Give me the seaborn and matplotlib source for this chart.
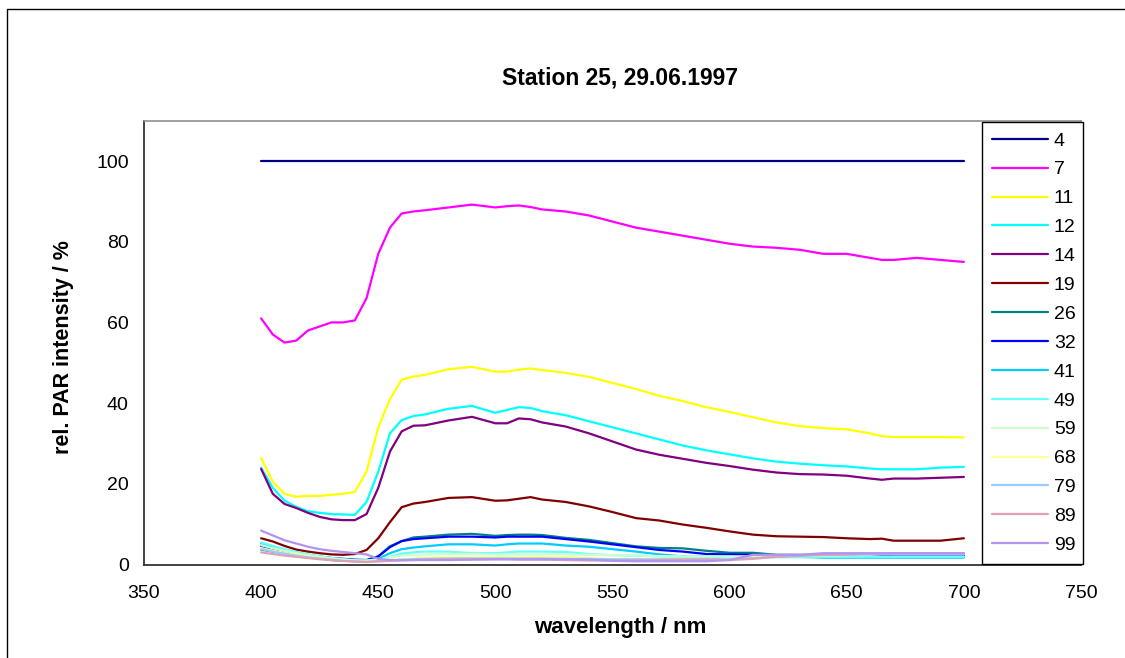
import numpy as np
import pandas as pd
import matplotlib
matplotlib.use("Agg")
import matplotlib.pyplot as plt
from matplotlib.lines import Line2D
from matplotlib.patches import Rectangle
import seaborn as sns

# Wavelength grid (nm) shared by all depth profiles
wavelength = [400, 405, 410, 415, 420, 425, 430, 435, 440, 445,
              450, 455, 460, 465, 470, 480, 490, 500, 505, 510,
              515, 520, 530, 540, 550, 560, 570, 580, 590, 600,
              610, 620, 630, 640, 650, 660, 665, 670, 680, 690, 700]

# Relative PAR intensity (%) per depth (m)
d4 = [100, 100, 100, 100, 100, 100, 100, 100, 100, 100,
      100, 100, 100, 100, 100, 100, 100, 100, 100, 100,
      100, 100, 100, 100, 100, 100, 100, 100, 100, 100,
      100, 100, 100, 100, 100, 100, 100, 100, 100, 100, 100]
d7 = [61, 57, 55, 55.5, 58, 59, 60, 60, 60.5, 66,
      77, 83.5, 87, 87.5, 87.8, 88.5, 89.2, 88.5, 88.8, 89,
      88.6, 88, 87.5, 86.5, 85, 83.5, 82.5, 81.5, 80.5, 79.5,
      78.8, 78.5, 78, 77, 77, 76, 75.5, 75.5, 76, 75.5, 75]
d11 = [26.4, 20.5, 17.5, 16.8, 17, 17, 17.3, 17.5, 18, 23,
       34, 41, 45.8, 46.6, 47, 48.4, 49, 47.8, 47.8, 48.3,
       48.6, 48.2, 47.5, 46.5, 45, 43.5, 41.8, 40.5, 39, 37.8,
       36.5, 35.2, 34.3, 33.8, 33.5, 32.5, 31.8, 31.6, 31.6, 31.6, 31.5]
d12 = [24, 19, 15.8, 14.3, 13.2, 12.8, 12.5, 12.4, 12.3, 15.5,
       23, 32.5, 35.8, 36.8, 37.2, 38.6, 39.3, 37.6, 38.3, 39,
       38.8, 38, 37, 35.5, 34, 32.5, 31, 29.5, 28.3, 27.3,
       26.3, 25.5, 25, 24.6, 24.3, 23.8, 23.6, 23.6, 23.6, 24, 24.2]
d14 = [23.7, 17.5, 15, 14, 12.8, 11.8, 11.2, 11, 11, 12.5,
       19, 28, 33, 34.4, 34.5, 35.7, 36.6, 35, 35, 36.2,
       36, 35.2, 34.2, 32.5, 30.5, 28.5, 27.2, 26.2, 25.2, 24.4,
       23.5, 22.8, 22.4, 22.3, 22, 21.3, 21, 21.3, 21.3, 21.5, 21.7]
d19 = [6.5, 5.7, 4.6, 3.7, 3.2, 2.8, 2.5, 2.4, 2.6, 3.6,
       6.5, 10.5, 14.2, 15.1, 15.5, 16.5, 16.7, 15.8, 15.9, 16.3,
       16.7, 16.1, 15.5, 14.4, 13, 11.5, 10.9, 9.9, 9.1, 8.2,
       7.4, 7, 6.9, 6.8, 6.5, 6.3, 6.4, 5.9, 5.9, 5.9, 6.5]
d26 = [3.7, 3.2, 2.8, 2.3, 1.8, 1.5, 1.1, 0.9, 0.9, 1.0,
       2.0, 4.5, 5.8, 6.7, 6.9, 7.4, 7.6, 7.1, 7.3, 7.4,
       7.4, 7.3, 6.6, 6.1, 5.3, 4.5, 4.1, 4.0, 3.4, 2.9,
       2.9, 2.4, 2.4, 2.4, 2.4, 2.4, 2.4, 2.5, 2.5, 2.5, 2.4]
d32 = [4.6, 3.9, 3.3, 2.8, 2.3, 1.9, 1.6, 1.4, 1.2, 1.1,
       2.0, 4.3, 5.8, 6.3, 6.5, 6.9, 6.9, 6.7, 6.9, 6.9,
       6.9, 6.9, 6.3, 5.7, 5.0, 4.3, 3.6, 3.2, 2.6, 2.5,
       2.4, 2.3, 2.2, 2.2, 2.2, 2.2, 2.2, 2.2, 2.2, 2.2, 2.2]
d41 = [5.1, 4.3, 3.6, 3.0, 2.4, 2.0, 1.6, 1.3, 1.1, 1.0,
       1.4, 2.8, 3.8, 4.2, 4.5, 5.0, 5.0, 4.7, 5.0, 5.2,
       5.2, 5.2, 4.7, 4.4, 3.8, 3.2, 2.5, 2.0, 1.9, 1.9,
       1.9, 1.9, 1.9, 1.7, 1.7, 1.7, 1.7, 1.7, 1.7, 1.7, 1.7]
d49 = [5.5, 4.6, 3.8, 3.1, 2.5, 2.0, 1.6, 1.3, 1.0, 0.9,
       1.0, 1.9, 2.7, 3.0, 3.2, 3.2, 2.8, 2.8, 3.0, 3.2,
       3.2, 3.2, 3.1, 2.6, 2.3, 2.2, 2.0, 1.9, 1.8, 1.8,
       1.8, 1.8, 1.8, 1.9, 1.9, 1.9, 1.9, 1.9, 1.9, 1.9, 1.9]
d59 = [4.8, 4.0, 3.4, 2.8, 2.3, 1.9, 1.5, 1.2, 1.0, 1.0,
       1.2, 1.8, 2.2, 2.4, 2.5, 2.6, 2.6, 2.5, 2.5, 2.5,
       2.5, 2.5, 2.5, 2.4, 2.3, 2.2, 2.1, 2.0, 2.0, 2.0,
       2.0, 2.1, 2.2, 2.2, 2.3, 2.4, 2.6, 2.6, 2.6, 2.6, 2.6]
d68 = [4.0, 3.4, 2.9, 2.4, 2.0, 1.6, 1.3, 1.0, 0.9, 0.8,
       0.9, 1.1, 1.3, 1.5, 1.7, 1.9, 1.9, 1.8, 1.8, 1.9,
       1.9, 1.9, 1.9, 1.6, 1.3, 1.2, 1.2, 1.2, 1.3, 1.4,
       1.8, 2.2, 2.4, 2.5, 2.6, 2.7, 2.9, 2.6, 2.6, 2.6, 2.6]
d79 = [3.8, 3.2, 2.7, 2.2, 1.8, 1.5, 1.2, 0.9, 0.8, 0.7,
       0.8, 1.0, 1.2, 1.3, 1.4, 1.5, 1.5, 1.5, 1.5, 1.5,
       1.5, 1.5, 1.4, 1.4, 1.3, 1.3, 1.3, 1.3, 1.3, 1.3,
       1.6, 2.0, 2.2, 2.4, 2.4, 2.5, 2.5, 2.5, 2.5, 2.5, 2.5]
d89 = [3.0, 2.6, 2.2, 1.9, 1.6, 1.3, 1.1, 0.9, 0.7, 0.6,
       0.8, 0.9, 1.0, 1.1, 1.2, 1.3, 1.3, 1.3, 1.3, 1.2,
       1.2, 1.2, 1.1, 1.0, 1.0, 1.0, 1.1, 1.2, 1.2, 1.1,
       1.4, 1.9, 2.2, 2.4, 2.5, 2.7, 2.7, 2.8, 2.8, 2.8, 2.8]
d99 = [8.4, 7.2, 6.0, 5.2, 4.4, 3.8, 3.4, 3.1, 2.8, 2.5,
       1.4, 1.1, 1.1, 1.1, 1.1, 1.1, 1.2, 1.3, 1.3, 1.3,
       1.3, 1.3, 1.3, 1.2, 0.9, 0.8, 0.8, 0.8, 0.8, 1.1,
       2.4, 2.4, 2.4, 2.8, 2.8, 2.8, 2.8, 2.8, 2.8, 2.8, 2.8]

depths = ["4", "7", "11", "12", "14", "19", "26", "32",
          "41", "49", "59", "68", "79", "89", "99"]
profiles = [d4, d7, d11, d12, d14, d19, d26, d32,
            d41, d49, d59, d68, d79, d89, d99]
colors = ["#000080", "#FF00FF", "#FFFF00", "#00FFFF", "#800080",
          "#800000", "#008080", "#0000FF", "#00CCFF", "#66FFFF",
          "#CCFFCC", "#FFFF99", "#99CCFF", "#E0A0B4", "#B094F0"]
palette = dict(zip(depths, colors))

rows = []
for depth, values in zip(depths, profiles):
    assert len(values) == len(wavelength)
    for wl, v in zip(wavelength, values):
        rows.append({"wavelength": wl, "intensity": v, "depth": depth})
df = pd.DataFrame(rows)

sns.set_style("white")
plt.rcParams["font.family"] = ["Liberation Sans", "DejaVu Sans"]
plt.rcParams["text.color"] = "black"
plt.rcParams["axes.labelcolor"] = "black"
plt.rcParams["xtick.color"] = "black"
plt.rcParams["ytick.color"] = "black"

W, H = 1125, 658
fig = plt.figure(figsize=(W / 100, H / 100), dpi=100)

# plot area in pixel coordinates
left, right, top, bottom = 144, 1081, 120.7, 564.5
ax = fig.add_axes([left / W, 1 - bottom / H, (right - left) / W, (bottom - top) / H])

sns.lineplot(data=df, x="wavelength", y="intensity", hue="depth",
             hue_order=depths, palette=palette, estimator=None, sort=False,
             linewidth=1.6, legend=False, ax=ax)

ax.set_xlim(350, 750)
ax.set_ylim(0, 110)
ax.set_xticks(range(350, 751, 50))
ax.set_yticks(range(0, 101, 20))
ax.set_xlabel("")
ax.set_ylabel("")
ax.tick_params(axis="both", direction="inout", length=8, width=1,
               color="#222222", labelsize=14, labelcolor="black")
ax.tick_params(axis="x", pad=11)
ax.tick_params(axis="y", pad=7)
for side in ("left", "bottom"):
    ax.spines[side].set_color("#333333")
    ax.spines[side].set_linewidth(1.3)
for side in ("top", "right"):
    ax.spines[side].set_color("#909090")
    ax.spines[side].set_linewidth(1.2)

# outer chart border
fig.patches.append(Rectangle((7 / W, -0.05), 1.0, 1 - 9 / H + 0.05,
                             transform=fig.transFigure, fill=False,
                             edgecolor="black", linewidth=1.0, zorder=0))

fig.text(620 / W, 1 - 78 / H, "Station 25, 29.06.1997", ha="center",
         va="center", fontsize=16.5, fontweight="bold")
fig.text(620 / W, 1 - 627 / H, "wavelength / nm", ha="center",
         va="center", fontsize=16, fontweight="bold")
fig.text(63 / W, 1 - 347 / H, "rel. PAR intensity / %", ha="center",
         va="center", rotation=90, fontsize=15.5, fontweight="bold")

# legend box
lx0, lx1, ly0, ly1 = 982, 1083, 122, 564
fig.patches.append(Rectangle((lx0 / W, 1 - ly1 / H), (lx1 - lx0) / W, (ly1 - ly0) / H,
                             transform=fig.transFigure, facecolor="white",
                             edgecolor="black", linewidth=1.0, zorder=2))
handles = [Line2D([], [], color=c, linewidth=1.6) for c in colors]
fig.legend(handles, depths, loc="upper left",
           bbox_to_anchor=(lx0 / W, 1 - 122 / H), frameon=False,
           fontsize=14, handlelength=2.88, handletextpad=0.31,
           borderpad=0.51, labelspacing=0.58, borderaxespad=0)

fig.savefig("out.png", dpi=100)
